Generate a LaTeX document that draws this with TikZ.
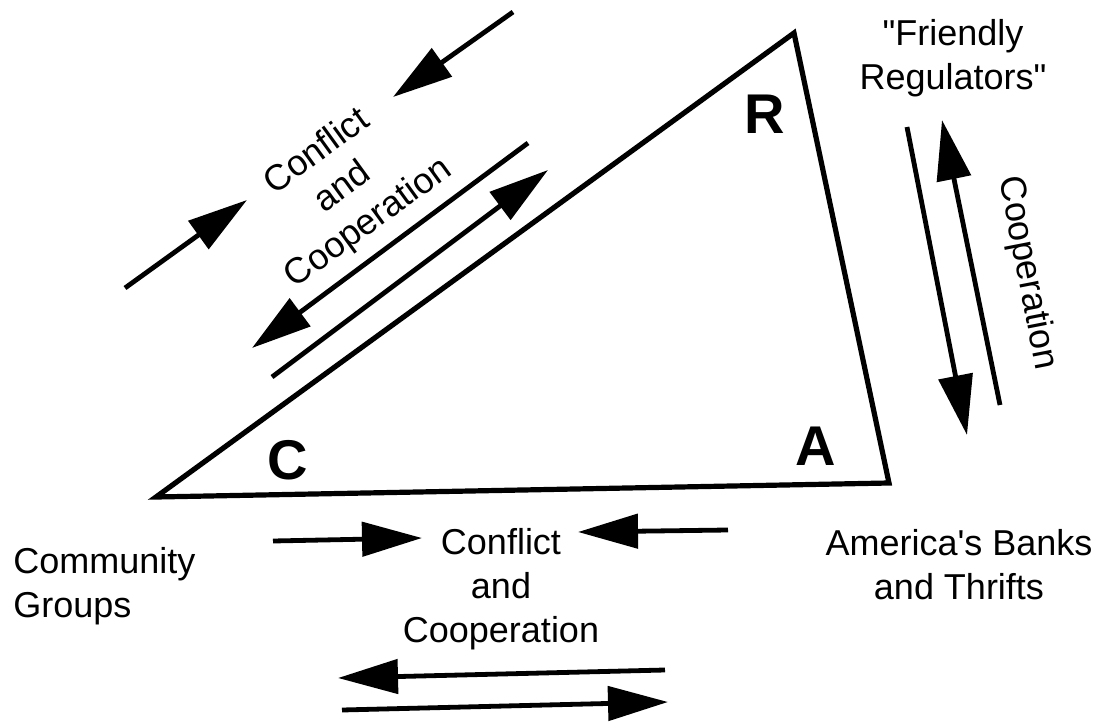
\documentclass[tikz,border=0pt]{standalone}
\usepackage{fontspec}
\setmainfont{Liberation Sans}
\usetikzlibrary{arrows.meta}
\tikzset{
  flow/.style={line width=2.4pt,-{Triangle[length=30pt,width=17pt]}},
  lbl/.style={font=\fontsize{18}{22}\selectfont,align=center,inner sep=0pt},
  corner/.style={font=\fontsize{28}{30}\selectfont\bfseries,inner sep=0pt}
}
\begin{document}
\begin{tikzpicture}[x=0.5pt,y=-0.5pt]
      \useasboundingbox (0,0) rectangle (1105,723);
      %triangle
      \coordinate (C) at (156,497);
      \coordinate (R) at (794,33);
      \coordinate (A) at (889,483);
      \draw[line width=2.6pt,line join=miter] (C) -- (R) -- (A) -- cycle;
      \node[corner] (cc) at (288,460) {C};
      \node[corner] (rr) at (765,114) {R};
      \node[corner] (aa) at (816,446) {A};
      %actors
      \node[lbl,align=left,anchor=west] (groups) at (13,586) {Community\\Groups};
      \node[lbl] (banks) at (959,565) {America\textquotesingle s Banks\\and Thrifts};
      \node[lbl] (regs) at (953,58) {\textquotedbl Friendly\\Regulators\textquotedbl};
      %C-R
      \node[lbl,rotate=36] (crtext) at (343,188) {Conflict\\and\\Cooperation};
      \coordinate (cr1a) at (125,288); \coordinate (cr1b) at (247,200);
      \coordinate (cr2a) at (513,12);  \coordinate (cr2b) at (393,97);
      \coordinate (cr3a) at (528,143); \coordinate (cr3b) at (252,348);
      \coordinate (cr4a) at (272,377); \coordinate (cr4b) at (548,170);
      \draw[flow] (cr1a) -- (cr1b);
      \draw[flow] (cr2a) -- (cr2b);
      \draw[flow] (cr3a) -- (cr3b);
      \draw[flow] (cr4a) -- (cr4b);
      %R-A
      \node[lbl,rotate=-79] (ratext) at (1027,273) {Cooperation};
      \coordinate (ra1a) at (907,127);  \coordinate (ra1b) at (967,435);
      \coordinate (ra2a) at (1000,405); \coordinate (ra2b) at (942,120);
      \draw[flow] (ra1a) -- (ra1b);
      \draw[flow] (ra2a) -- (ra2b);
      %C-A
      \node[lbl] (catext) at (501,589) {Conflict\\and\\Cooperation};
      \coordinate (ca1a) at (273,541); \coordinate (ca1b) at (422,538);
      \coordinate (ca2a) at (728,530); \coordinate (ca2b) at (578,532);
      \coordinate (ca3a) at (665,670); \coordinate (ca3b) at (338,678);
      \coordinate (ca4a) at (342,710); \coordinate (ca4b) at (668,702);
      \draw[flow] (ca1a) -- (ca1b);
      \draw[flow] (ca2a) -- (ca2b);
      \draw[flow] (ca3a) -- (ca3b);
      \draw[flow] (ca4a) -- (ca4b);
    \end{tikzpicture}
\end{document}
